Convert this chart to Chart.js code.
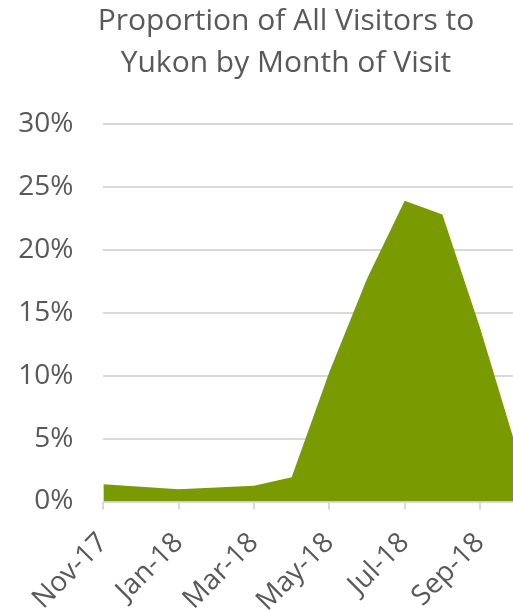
<!DOCTYPE html>
<html>
<head>
<meta charset="utf-8">
<script src="https://cdn.jsdelivr.net/npm/chart.js@4"></script>
<style>
html,body{margin:0;padding:0;overflow:hidden;background:#fff;width:513px;height:610px;}
#wrap{position:absolute;left:0;top:0;width:572px;height:610px;}
</style>
</head>
<body>
<div id="wrap"><canvas id="c" width="572" height="610"></canvas></div>
<script>
const titleLines = ['Proportion of All Visitors to', 'Yukon by Month of Visit'];
const months = ['Nov-17','Dec-17','Jan-18','Feb-18','Mar-18','Apr-18','May-18','Jun-18','Jul-18','Aug-18','Sep-18','Oct-18'];
const visitorShare = [1.37, 1.17, 0.97, 1.12, 1.25, 1.92, 10.3, 17.7, 23.9, 22.8, 13.8, 3.9];
const yTicks = [0, 5, 10, 15, 20, 25, 30];

const FONT = '"Open Sans", Lato, sans-serif';
const TXT = '#595959';
const GRID = '#d9d9d9';
const FILL = '#7a9a01';

new Chart(document.getElementById('c'), {
  type: 'line',
  data: {
    labels: months,
    datasets: [{
      data: visitorShare,
      fill: 'origin',
      backgroundColor: FILL,
      borderColor: FILL,
      borderWidth: 0,
      pointRadius: 0,
      tension: 0
    }]
  },
  options: {
    responsive: false,
    animation: false,
    events: [],
    layout: { padding: 0 },
    plugins: {
      legend: { display: false },
      tooltip: { enabled: false },
      title: {
        display: true,
        text: titleLines,
        color: TXT,
        font: { family: FONT, size: 30, weight: 'normal', lineHeight: 1.4 },
        padding: { top: 0, bottom: 40 }
      }
    },
    scales: {
      x: {
        offset: false,
        border: { display: true, color: GRID, width: 1 },
        grid: {
          drawOnChartArea: false,
          drawTicks: true,
          tickLength: 8,
          color: (ctx) => (ctx.index % 2 === 0 ? GRID : 'rgba(0,0,0,0)'),
          lineWidth: 2
        },
        ticks: {
          autoSkip: false,
          maxRotation: 45,
          minRotation: 45,
          padding: 17,
          color: TXT,
          font: { family: FONT, size: 28 },
          callback: function (v, i) { return i % 2 === 0 ? months[i] : ''; }
        },
        afterFit: (s) => { s.height = 108.5; }
      },
      y: {
        min: 0,
        max: 30,
        afterBuildTicks: (s) => { s.ticks = yTicks.map(v => ({ value: v })); },
        border: { display: false },
        grid: { color: GRID, lineWidth: 2, drawTicks: false },
        ticks: {
          padding: 30,
          color: TXT,
          font: { family: FONT, size: 28 },
          callback: (v) => v + '%'
        },
        afterFit: (s) => { s.width = 103.3; }
      },
      yR: {
        position: 'right',
        display: true,
        border: { display: false },
        grid: { display: false, drawTicks: false },
        ticks: { display: false },
        afterFit: (s) => { s.width = 54.3; }
      }
    }
  }
});
</script>
</body>
</html>
